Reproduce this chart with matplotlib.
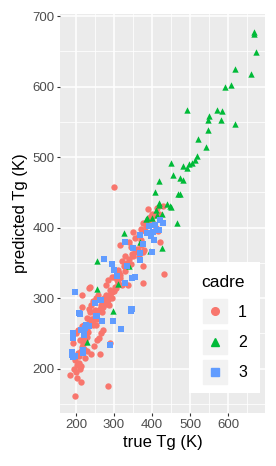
import matplotlib
matplotlib.use("Agg")
import matplotlib.pyplot as plt
from matplotlib.lines import Line2D
from matplotlib.legend_handler import HandlerTuple

plt.rcParams['font.family'] = ['Liberation Sans', 'DejaVu Sans']

# cadre 1 (circles)
c1_true = [197, 184, 202, 212, 283, 193, 198, 203, 207, 210, 214, 195, 200, 205, 208, 212, 215, 220, 218,
           225, 230, 210, 200, 206, 215, 222, 228, 233, 240, 245, 250, 255, 235, 240, 245, 252, 258, 215,
           217, 235, 243, 250, 262, 268, 265, 270, 275, 280, 285, 290, 295, 300, 305, 303, 320, 338, 310,
           315, 290, 280, 285, 300, 294, 317, 310, 325, 330, 335, 340, 345, 350, 355, 360, 365, 345, 370,
           375, 380, 316, 340, 355, 365, 351, 370, 377, 385, 390, 395, 399, 390, 412, 430, 405, 410, 415,
           421, 377, 375, 432, 301, 237, 260, 265, 270, 255, 248, 230, 225, 240, 262, 290, 228, 238, 246,
           258, 272, 278, 288, 296, 308, 312, 322, 328, 348, 362, 372, 382, 398, 404, 418, 220, 232, 252]
c1_pred = [161, 191, 186, 181, 176, 236, 212, 205, 208, 200, 203, 199, 195, 222, 218, 225, 230, 228, 235,
           240, 245, 240, 250, 255, 260, 262, 258, 265, 270, 268, 275, 271, 285, 290, 296, 300, 305, 288,
           304, 314, 269, 283, 285, 280, 290, 295, 300, 292, 298, 305, 300, 310, 315, 316, 319, 319, 322,
           328, 312, 318, 325, 330, 330, 333, 340, 345, 338, 350, 355, 348, 360, 365, 370, 358, 372, 375,
           365, 368, 376, 380, 385, 390, 394, 398, 406, 402, 410, 415, 420, 426, 428, 430, 405, 400, 395,
           380, 345, 322, 334, 457, 316, 243, 250, 255, 240, 232, 225, 215, 220, 220, 236, 272, 280, 262,
           282, 288, 305, 290, 308, 325, 336, 352, 360, 362, 368, 382, 395, 412, 418, 420, 246, 252, 262]

# cadre 2 (triangles)
c2_true = [669, 669, 674, 619, 660, 593, 607, 491, 572, 583, 550, 546, 580, 617, 546, 520, 541, 519,
           513, 504, 498, 481, 491, 449, 456, 474, 482, 419, 408, 474, 419, 440, 449, 384, 465, 411,
           467, 386, 419, 412, 399, 447, 425, 327, 368, 395, 425, 340, 311, 254, 256, 298, 230]
c2_pred = [678, 674, 649, 625, 618, 599, 602, 567, 567, 566, 559, 552, 552, 547, 539, 526, 514, 501,
           496, 492, 490, 487, 485, 491, 475, 471, 468, 466, 450, 447, 435, 434, 429, 412, 406, 425,
           447, 413, 432, 418, 413, 430, 420, 393, 379, 367, 371, 346, 320, 352, 313, 282, 238]

# cadre 3 (squares)
c3_true = [197, 250, 266, 209, 253, 268, 344, 298, 318, 193, 193, 289, 189, 189, 197, 219, 219, 329,
           224, 226, 220, 222, 274, 294, 329, 309, 346, 355, 333, 346, 368, 399, 405, 402, 412, 386,
           368, 408, 430, 421, 417, 377, 368, 351, 210, 263, 254, 235, 213, 191, 345, 300, 392, 396]
c3_pred = [309, 293, 298, 279, 275, 267, 284, 267, 256, 250, 243, 234, 224, 219, 218, 226, 222, 321,
           257, 262, 252, 248, 355, 348, 380, 331, 328, 330, 346, 285, 354, 366, 383, 394, 397, 392,
           390, 404, 406, 411, 397, 377, 364, 371, 278, 297, 274, 260, 255, 217, 282, 340, 402, 388]

colors = ['#F8766D', '#00BA38', '#619CFF']
markers = ['o', '^', 's']
labels = ['1', '2', '3']

fig = plt.figure(figsize=(2.76, 4.66), dpi=100)
ax = fig.add_axes([60 / 276, 1 - 413 / 466, 205 / 276, 399 / 466])
ax.set_facecolor('#EBEBEB')

series = [(c1_true, c1_pred), (c2_true, c2_pred), (c3_true, c3_pred)]
for (tx, py), col, m in zip(series, colors, markers):
    ax.scatter(tx, py, c=col, marker=m, s=21, linewidths=0, zorder=3)

ax.set_xlim(158, 697)
ax.set_ylim(137, 703)
ax.set_xticks([200, 300, 400, 500, 600])
ax.set_yticks([200, 300, 400, 500, 600, 700])
ax.set_xticks([250, 350, 450, 550, 650], minor=True)
ax.set_yticks([150, 250, 350, 450, 550, 650], minor=True)
ax.grid(True, which='major', color='white', linewidth=1.1, zorder=0)
ax.grid(True, which='minor', color='white', linewidth=0.55, zorder=0)
ax.set_axisbelow(True)
for s in ax.spines.values():
    s.set_visible(False)
ax.tick_params(which='major', length=2.5, color='#333333', labelsize=9.5, labelcolor='#4D4D4D', pad=1.5)
ax.tick_params(which='minor', length=0)

ax.set_xlabel('true Tg (K)', fontsize=12, color='black', labelpad=3)
ax.set_ylabel('predicted Tg (K)', fontsize=12, color='black', labelpad=3)

handles = [(Line2D([], [], linestyle='none', marker='s', color='#F2F2F2', markersize=17),
            Line2D([], [], linestyle='none', marker=m, color=c, markersize=5.5))
           for m, c in zip(markers, colors)]
leg = ax.legend(handles, labels, title='cadre', loc='lower right',
                bbox_to_anchor=(0.975, 0.05), frameon=True, fontsize=11.5,
                title_fontsize=12.5, handlelength=1.7, handletextpad=0.6,
                labelspacing=0.95, borderpad=0.8, borderaxespad=0, alignment='left',
                handler_map={tuple: HandlerTuple(ndivide=1)})
leg.get_frame().set_facecolor('white')
leg.get_frame().set_edgecolor('none')
leg.get_frame().set_boxstyle('square', pad=0)
leg.get_frame().set_alpha(1)

fig.savefig('out.png', dpi=100)
